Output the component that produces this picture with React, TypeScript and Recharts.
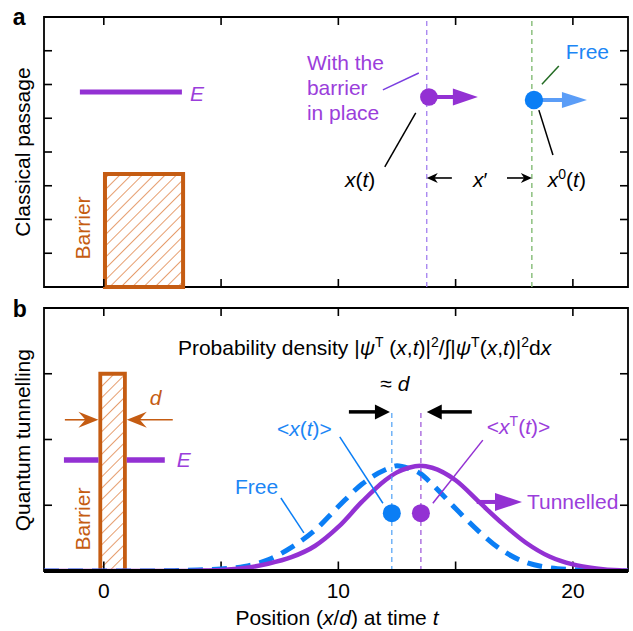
import React from "react";
import {
  ComposedChart,
  Line,
  XAxis,
  YAxis,
  ReferenceArea,
  ReferenceLine,
  ReferenceDot,
} from "recharts";

// ---------------- data ----------------
const positions = [-2.55, 0, 2, 3, 4, 5, 6, 7, 8, 9, 10, 11, 12, 12.5, 13, 13.5, 14, 15, 16, 17, 18, 19, 20, 21, 22, 22.35];
const freeDensity = [0, 0, 0, 0.005, 0.015, 0.03, 0.07, 0.17, 0.36, 0.62, 0.98, 1.32, 1.54, 1.6, 1.56, 1.48, 1.32, 0.95, 0.6, 0.31, 0.13, 0.05, 0.02, 0.005, 0, 0];
const tunnelledDensity = [0, 0, 0, 0, 0.005, 0.015, 0.045, 0.11, 0.21, 0.38, 0.67, 1.05, 1.38, 1.5, 1.57, 1.6, 1.57, 1.38, 1.05, 0.72, 0.43, 0.22, 0.1, 0.04, 0.01, 0.005];
const xTicks = [0, 5, 10, 15, 20];
const xTickLabels = ["0", "", "10", "", "20"];
const classicalYTicks = [1, 2, 3, 4, 5, 6, 7];
const quantumYTicks = [1, 2, 3];

const rows = positions.map((x, i) => ({ x, free: freeDensity[i], tunnelled: tunnelledDensity[i] }));

// ---------------- style ----------------
const X_DOMAIN: [number, number] = [-2.55, 22.35];
const A_Y_DOMAIN: [number, number] = [0, 8];
const B_Y_DOMAIN: [number, number] = [0, 4];
const FONT = "'Liberation Sans', Arial, Helvetica, sans-serif";
const FS = 21;
const PURPLE = "#9331d3";
const PURPLE_TEXT = "#9b3edb";
const BLUE = "#0b7ef5";
const BLUE_TEXT = "#1c86f5";
const BLUE_LIGHT = "#5b9df7";
const ORANGE = "#c55c12";
const HATCH = "#dc7430";
const GREEN_DASH = "#8cc07f";
const GREEN_DARK = "#236b23";
const VIOLET_DASH = "#9b74ee";
const TICK_LEN = 8;

const AX = { xAxisId: "x", yAxisId: "y" };

function note(x: number, y: number, draw: (cx: number, cy: number) => React.ReactNode) {
  return (
    <ReferenceDot
      {...AX}
      x={x}
      y={y}
      r={1}
      ifOverflow="visible"
      shape={(p: any) => <g>{draw(p.cx, p.cy)}</g>}
    />
  );
}

function seg(x1: number, y1: number, x2: number, y2: number, stroke: string, strokeWidth: number, dash?: string) {
  return (
    <ReferenceLine
      {...AX}
      segment={[{ x: x1, y: y1 }, { x: x2, y: y2 }]}
      stroke={stroke}
      strokeWidth={strokeWidth}
      strokeDasharray={dash}
      ifOverflow="visible"
    />
  );
}

function arrow(
  x1: number, y1: number, x2: number, y2: number,
  color: string, shaft: number, headLen: number, headHalf: number, notch = 0
) {
  return (
    <ReferenceLine
      {...AX}
      segment={[{ x: x1, y: y1 }, { x: x2, y: y2 }]}
      stroke={color}
      ifOverflow="visible"
      shape={(p: any) => {
        const ax = p.x1, ay = p.y1, bx = p.x2, by = p.y2;
        const dx = bx - ax, dy = by - ay;
        const L = Math.hypot(dx, dy) || 1;
        const ux = dx / L, uy = dy / L;
        const nx = -uy, ny = ux;
        const backX = bx - ux * headLen, backY = by - uy * headLen;
        const mX = bx - ux * headLen * (1 - notch), mY = by - uy * headLen * (1 - notch);
        const pts = [
          [bx, by],
          [backX + nx * headHalf, backY + ny * headHalf],
          [mX, mY],
          [backX - nx * headHalf, backY - ny * headHalf],
        ].map((q) => q.join(",")).join(" ");
        return (
          <g>
            <line x1={ax} y1={ay} x2={mX + ux * 1} y2={mY + uy * 1} stroke={color} strokeWidth={shaft} />
            <polygon points={pts} fill={color} stroke="none" />
          </g>
        );
      }}
    />
  );
}

// inward tick marks drawn at both ends of a full-height / full-width reference line
function xTickMarks(ticks: number[], bottomInset = 0) {
  return ticks.map((t) => (
    <ReferenceLine
      key={`xt${t}`}
      {...AX}
      x={t}
      stroke="#000"
      shape={(p: any) => {
        const top = Math.min(p.y1, p.y2), bot = Math.max(p.y1, p.y2);
        return (
          <g stroke="#000" strokeWidth={1.6}>
            <line x1={p.x1} y1={top} x2={p.x1} y2={top + TICK_LEN} />
            <line x1={p.x1} y1={bot - bottomInset} x2={p.x1} y2={bot - bottomInset - TICK_LEN} />
          </g>
        );
      }}
    />
  ));
}
function yTickMarks(ticks: number[]) {
  return ticks.map((t) => (
    <ReferenceLine
      key={`yt${t}`}
      {...AX}
      y={t}
      stroke="#000"
      shape={(p: any) => {
        const l = Math.min(p.x1, p.x2), r = Math.max(p.x1, p.x2);
        return (
          <g stroke="#000" strokeWidth={1.6}>
            <line x1={l} y1={p.y1} x2={l + TICK_LEN} y2={p.y1} />
            <line x1={r} y1={p.y1} x2={r - TICK_LEN} y2={p.y1} />
          </g>
        );
      }}
    />
  ));
}

const T = (cx: number, cy: number, children: React.ReactNode, fill = "#000", extra: any = {}) => (
  <text x={cx} y={cy} fill={fill} fontSize={FS} fontFamily={FONT} {...extra}>
    {children}
  </text>
);
const I = (s: string) => <tspan fontStyle="italic">{s}</tspan>;

const hatchDef = (id: string) => (
  <defs>
    <pattern id={id} width="8" height="8" patternUnits="userSpaceOnUse" patternTransform="rotate(45)">
      <rect width="8" height="8" fill="#fff" />
      <line x1="0" y1="0" x2="0" y2="8" stroke={HATCH} strokeWidth="1.4" />
    </pattern>
  </defs>
);

export default function App() {
  return (
    <div style={{ position: "absolute", left: 0, top: 0, width: 633, height: 631, fontFamily: FONT, background: "#fff" }}>
      {/* ---------------- panel a ---------------- */}
      <div style={{ position: "absolute", left: 0, top: 0 }}>
        <ComposedChart width={633} height={300} data={rows} margin={{ top: 17, right: 5, bottom: 13, left: 44 }}>
          {hatchDef("hatchA")}
          <XAxis xAxisId="x" type="number" dataKey="x" domain={X_DOMAIN} allowDataOverflow hide />
          <YAxis yAxisId="y" type="number" domain={A_Y_DOMAIN} allowDataOverflow hide />

          <ReferenceArea {...AX} x1={X_DOMAIN[0]} x2={X_DOMAIN[1]} y1={A_Y_DOMAIN[0]} y2={A_Y_DOMAIN[1]}
            fill="none" stroke="#000" strokeWidth={1.8} ifOverflow="visible" />
          {xTickMarks(xTicks)}
          {yTickMarks(classicalYTicks)}

          <ReferenceArea {...AX} x1={0.05} x2={3.38} y1={0} y2={3.35} fill="url(#hatchA)" fillOpacity={1}
            stroke={ORANGE} strokeWidth={4} ifOverflow="visible" />
          {seg(-1.02, 5.78, 3.33, 5.78, PURPLE, 5)}
          {note(3.67, 5.51, (cx, cy) => T(cx, cy, I("E"), PURPLE_TEXT))}
          {note(-0.6, 1.75, (cx, cy) =>
            T(cx, cy, "Barrier", ORANGE, { textAnchor: "middle", transform: `rotate(-90 ${cx} ${cy})` }))}

          <ReferenceLine {...AX} x={13.77} stroke={VIOLET_DASH} strokeWidth={1.2} strokeDasharray="5 4" />
          <ReferenceLine {...AX} x={18.25} stroke={GREEN_DASH} strokeWidth={1.5} strokeDasharray="5 4" />

          {arrow(13.86, 5.63, 15.95, 5.63, PURPLE, 4, 25, 8.5)}
          {arrow(18.34, 5.54, 20.6, 5.54, BLUE_LIGHT, 4, 25, 8)}
          <ReferenceDot {...AX} x={13.86} y={5.63} r={8.8} fill={PURPLE} stroke="none" ifOverflow="visible" />
          <ReferenceDot {...AX} x={18.34} y={5.54} r={9.2} fill={BLUE} stroke="none" ifOverflow="visible" />

          {note(8.66, 6.43, (cx, cy) => T(cx, cy, "With the", PURPLE_TEXT))}
          {note(8.66, 5.69, (cx, cy) => T(cx, cy, "barrier", PURPLE_TEXT))}
          {note(8.66, 4.95, (cx, cy) => T(cx, cy, "in place", PURPLE_TEXT))}
          {seg(11.9, 5.84, 13.43, 6.34, "#7a3ee0", 1.5)}
          {note(19.7, 6.76, (cx, cy) => T(cx, cy, "Free", BLUE_TEXT))}
          {seg(18.68, 6.01, 19.4, 6.55, GREEN_DARK, 1.5)}

          {seg(13.3, 5.16, 11.98, 3.56, "#000", 1.5)}
          {seg(18.55, 5.24, 19.15, 3.91, "#000", 1.5)}
          {note(10.28, 2.96, (cx, cy) => T(cx, cy, <>{I("x")}({I("t")})</>))}
          {note(15.74, 2.96, (cx, cy) => T(cx, cy, <>{I("x")}′</>))}
          {note(18.93, 2.96, (cx, cy) =>
            T(cx, cy, <>{I("x")}<tspan fontSize={14} dy={-8}>0</tspan><tspan dy={8}>(</tspan>{I("t")})</>))}
          {arrow(14.84, 3.23, 13.77, 3.23, "#000", 1.6, 11, 5, 0.3)}
          {arrow(17.19, 3.23, 18.25, 3.23, "#000", 1.6, 11, 5, 0.3)}

          {note(-3.16, 4.0, (cx, cy) =>
            T(cx, cy, "Classical passage", "#000", { textAnchor: "middle", transform: `rotate(-90 ${cx} ${cy})` }))}
          {note(-3.88, 7.76, (cx, cy) => T(cx, cy, "a", "#000", { fontWeight: "bold", fontSize: 23 }))}
        </ComposedChart>
      </div>

      {/* ---------------- panel b ---------------- */}
      <div style={{ position: "absolute", left: 0, top: 295 }}>
        <ComposedChart width={633} height={336} data={rows} margin={{ top: 13, right: 5, bottom: 0, left: 44 }}>
          {hatchDef("hatchB")}
          <XAxis xAxisId="x" type="number" dataKey="x" domain={X_DOMAIN} ticks={xTicks} allowDataOverflow
            height={60} tickSize={-6} tickMargin={18} interval={0} tickLine={false}
            tickFormatter={(v: number) => xTickLabels[xTicks.indexOf(v)] ?? ""}
            tick={{ fill: "#000", fontSize: FS, fontFamily: FONT }}
            axisLine={{ stroke: "#000", strokeWidth: 4 }} />
          <YAxis yAxisId="y" type="number" domain={B_Y_DOMAIN} allowDataOverflow hide />

          <ReferenceArea {...AX} x1={X_DOMAIN[0]} x2={X_DOMAIN[1]} y1={B_Y_DOMAIN[0]} y2={B_Y_DOMAIN[1]}
            fill="none" stroke="#000" strokeWidth={1.8} ifOverflow="visible" />
          {xTickMarks(xTicks, 1.5)}
          {yTickMarks(quantumYTicks)}

          <Line {...AX} dataKey="free" type="monotone" stroke={BLUE} strokeWidth={5} strokeDasharray="15 9"
            dot={false} activeDot={false} isAnimationActive={false} />
          <Line {...AX} dataKey="tunnelled" type="monotone" stroke={PURPLE} strokeWidth={4.5}
            dot={false} activeDot={false} isAnimationActive={false} />

          <ReferenceArea {...AX} x1={-0.15} x2={0.9} y1={0} y2={3} fill="url(#hatchB)" fillOpacity={1}
            stroke={ORANGE} strokeWidth={3.8} ifOverflow="visible" />
          {seg(-1.7, 1.69, -0.23, 1.69, PURPLE, 5.5)}
          {seg(0.98, 1.69, 2.6, 1.69, PURPLE, 5.5)}
          {note(3.11, 1.58, (cx, cy) => T(cx, cy, I("E"), PURPLE_TEXT))}
          {note(1.96, 2.52, (cx, cy) => T(cx, cy, I("d"), ORANGE))}
          {arrow(-1.66, 2.3, -0.23, 2.3, ORANGE, 1.6, 20, 8, 0.35)}
          {arrow(2.94, 2.3, 0.98, 2.3, ORANGE, 1.6, 20, 8, 0.35)}
          {note(-0.6, 0.79, (cx, cy) =>
            T(cx, cy, "Barrier", ORANGE, { textAnchor: "middle", transform: `rotate(-90 ${cx} ${cy})` }))}

          {note(3.16, 3.29, (cx, cy) =>
            T(cx, cy, <>Probability density |{I("ψ")}<tspan fontSize={14} dy={-8}>T</tspan><tspan dy={8}> (</tspan>{I("x")},{I("t")})|<tspan fontSize={14} dy={-8}>2</tspan><tspan dy={8}>/∫|</tspan>{I("ψ")}<tspan fontSize={14} dy={-8}>T</tspan><tspan dy={8}>(</tspan>{I("x")},{I("t")})|<tspan fontSize={14} dy={-8}>2</tspan><tspan dy={8}>d</tspan>{I("x")}</>))}
          {note(12.41, 2.74, (cx, cy) => T(cx, cy, <>≈ {I("d")}</>, "#000", { textAnchor: "middle" }))}
          {arrow(10.45, 2.42, 12.2, 2.42, "#000", 3.5, 15, 7.5)}
          {arrow(15.69, 2.42, 13.77, 2.42, "#000", 3.5, 15, 7.5)}
          {seg(12.28, 0, 12.28, 2.45, "#4da0f5", 1.2, "5 4")}
          {seg(13.52, 0, 13.52, 2.45, "#9a50d8", 1.2, "5 4")}

          {seg(10.06, 2.04, 11.9, 1.03, BLUE, 1.5)}
          {seg(16.16, 1.99, 14.03, 1.03, PURPLE, 1.5)}
          <ReferenceDot {...AX} x={12.28} y={0.88} r={9} fill={BLUE} stroke="none" ifOverflow="visible" />
          <ReferenceDot {...AX} x={13.52} y={0.88} r={9} fill={PURPLE} stroke="none" ifOverflow="visible" />
          {note(7.38, 2.05, (cx, cy) => T(cx, cy, <>&lt;{I("x")}({I("t")})&gt;</>, BLUE_TEXT))}
          {note(16.33, 2.08, (cx, cy) =>
            T(cx, cy, <>&lt;{I("x")}<tspan fontSize={14} dy={-8}>T</tspan><tspan dy={8}>(</tspan>{I("t")})&gt;</>, PURPLE_TEXT))}

          {note(5.59, 1.17, (cx, cy) => T(cx, cy, "Free", BLUE_TEXT))}
          {seg(7.55, 1.11, 8.53, 0.58, BLUE, 1.5)}
          {note(18.04, 0.94, (cx, cy) => T(cx, cy, "Tunnelled", PURPLE_TEXT))}
          {arrow(15.9, 1.05, 17.83, 1.05, PURPLE, 4, 27, 9)}

          {note(9.94, -0.82, (cx, cy) =>
            T(cx, cy, <>Position ({I("x")}/{I("d")}) at time {I("t")}</>, "#000", { textAnchor: "middle" }))}
          {note(-3.16, 1.99, (cx, cy) =>
            T(cx, cy, "Quantum tunnelling", "#000", { textAnchor: "middle", transform: `rotate(-90 ${cx} ${cy})` }))}
          {note(-3.88, 3.86, (cx, cy) => T(cx, cy, "b", "#000", { fontWeight: "bold", fontSize: 23 }))}
        </ComposedChart>
      </div>
    </div>
  );
}
